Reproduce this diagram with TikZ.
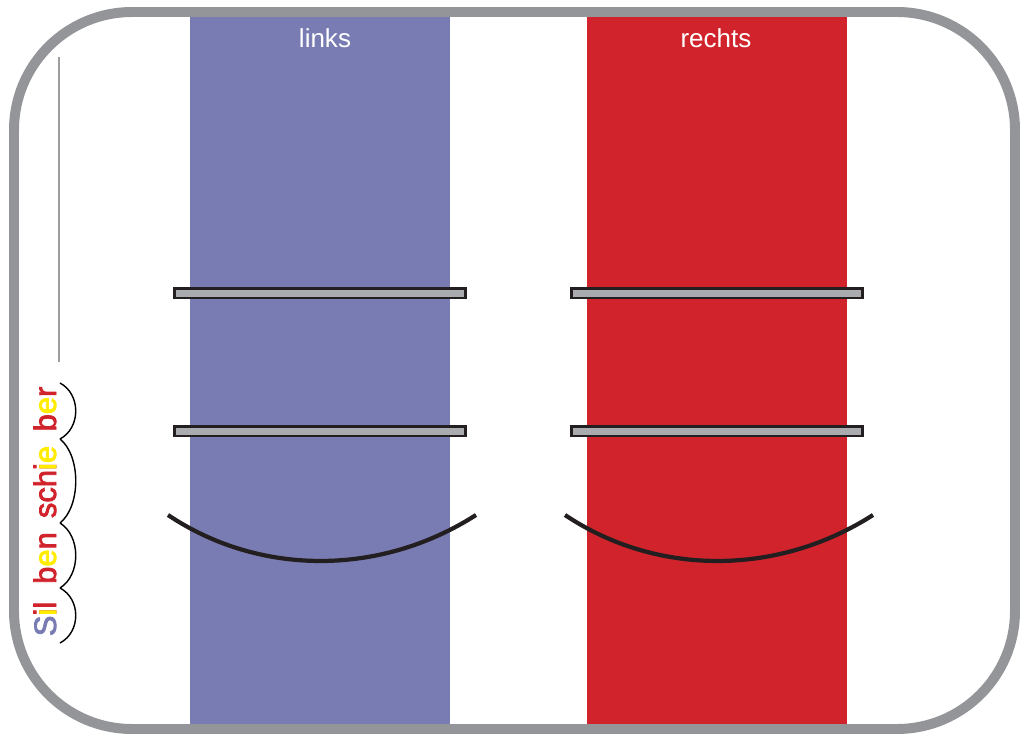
\documentclass[tikz,border=0pt]{standalone}
\usepackage{fontspec}
\setmainfont{Liberation Sans}
\newfontfamily\silbfont[FakeBold=2.5]{Liberation Sans}
\usetikzlibrary{positioning}

\definecolor{silbblau}{RGB}{120,124,178}
\definecolor{silbrot}{RGB}{209,35,43}
\definecolor{silbgelb}{RGB}{255,236,0}
\definecolor{rahmengrau}{RGB}{147,149,152}
\definecolor{stabgrau}{RGB}{170,171,174}
\definecolor{tinte}{RGB}{35,31,32}

\newcommand{\rot}[1]{\textcolor{silbrot}{#1}}
\newcommand{\gelb}[1]{\textcolor{silbgelb}{#1}}
\newlength\iwd
\newcommand{\ipkt}{\settowidth{\iwd}{i}\makebox[0pt][l]{\rot{i}}\makebox[\iwd][c]{\gelb{\i}}}

\begin{document}
\begin{tikzpicture}[x=0.025cm,y=-0.025cm,
  stab/.style={fill=stabgrau,draw=tinte,line width=1.5pt},
  mund/.style={draw=tinte,line width=3pt},
  bogen/.style={draw=black,line width=1pt},
  kopf/.style={text=white,anchor=base,inner sep=0pt,font=\fontsize{18.5}{22}\selectfont},
  silbe/.style={rotate=90,anchor=base,inner sep=0pt,font=\silbfont\fontsize{22}{26}\selectfont}
]
\useasboundingbox (0,0) rectangle (1020,734);

% the two columns
\foreach \cx/\col/\tx/\nm in {320/silbblau/325/links, 717/silbrot/716/rechts}{
  \fill[\col] (\cx-130,12) rectangle (\cx+130,729);
  \node[kopf] (\nm) at (\tx,48) {\nm};
  % the bars
  \foreach \yb in {288,426}
    \draw[stab] (\cx-145.5,\yb+0.5) rectangle (\cx+145.5,\yb+10);
  % the curve
  \draw[mund] (\cx-152,515) .. controls (\cx-60.4,576.3) and (\cx+60.4,576.3) .. (\cx+156,515);
}

% the frame
\draw[rahmengrau,line width=7.1pt,rounded corners=2.95cm] (14,12) rectangle (1015,729);

% the rule on the left
\draw[black!38,line width=1.4pt] (59,57) -- (59,362);

% the syllables
\node[silbe] (ber) at (56,409) {\rot{b}\gelb{e}\rot{r}};
\node[silbe] (schie) at (56,482) {\rot{sch}\ipkt\gelb{e}};
\node[silbe] (ben) at (56,558) {\rot{b}\gelb{e}\rot{n}};
\node[silbe] (sil) at (56,619) {\textcolor{silbblau}{S}\ipkt\rot{l}};

% the arcs under the syllables
\foreach \ya/\yb in {383/439, 439/523, 523/588, 588/643}
  \draw[bogen] (60,\ya) .. controls (81,\ya+0.2*\yb-0.2*\ya) and (81,\yb-0.2*\yb+0.2*\ya) .. (60,\yb);

\end{tikzpicture}
\end{document}
